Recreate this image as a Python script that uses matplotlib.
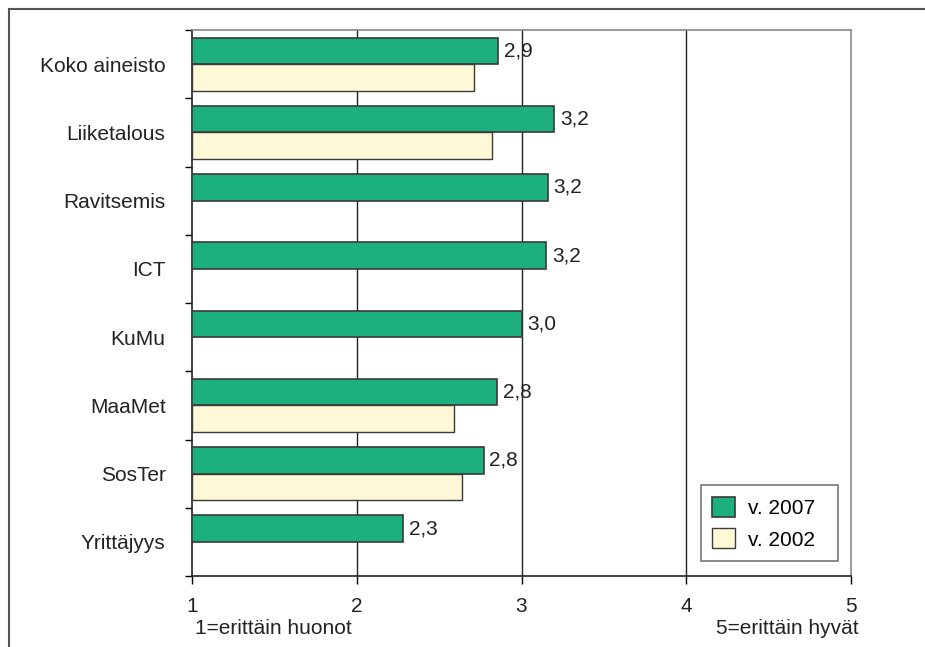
import numpy as np
import matplotlib.pyplot as plt
from matplotlib.lines import Line2D

plt.rcParams['font.family'] = ['Liberation Sans', 'DejaVu Sans']

categories = ["Koko aineisto", "Liiketalous", "Ravitsemis", "ICT", "KuMu",
              "MaaMet", "SosTer", "Yrittäjyys"]
v2007 = [2.86, 3.20, 3.16, 3.15, 3.00, 2.85, 2.77, 2.28]
v2002 = [2.71, 2.82, np.nan, np.nan, np.nan, 2.59, 2.64, np.nan]
labels2007 = ["2,9", "3,2", "3,2", "3,2", "3,0", "2,8", "2,8", "2,3"]
xticks = [1, 2, 3, 4, 5]

green = "#1db07f"
cream = "#fff8d6"
edge = "#3a3a3a"
txt = "#222222"
fs = 15

fig = plt.figure(figsize=(9.25, 6.47), dpi=100)
ax = fig.add_axes([192/925, 71/647, 659/925, 546/647])

n = len(categories)
y = np.arange(n)
h = 0.39
ax.barh(y - h/2, np.array(v2007) - 1, left=1, height=h, color=green,
        edgecolor=edge, linewidth=1.2, label="v. 2007", zorder=3)
ax.barh(y + h/2, np.array(v2002) - 1, left=1, height=h, color=cream,
        edgecolor=edge, linewidth=1.0, label="v. 2002", zorder=3)

for yi, v, lab in zip(y, v2007, labels2007):
    ax.text(v + 0.035, yi - h/2, lab, va="center", ha="left", fontsize=fs,
            color=txt, zorder=4)

ax.set_xlim(1, 5)
ax.set_ylim(n - 0.5, -0.5)
ax.set_xticks(xticks)
ax.set_xticklabels([str(t) for t in xticks], fontsize=fs, color=txt)
ax.tick_params(axis="x", length=6, width=1, pad=9, direction="out")

ax.set_yticks(y)
ax.set_yticklabels(categories, fontsize=fs, color=txt)
ax.tick_params(axis="y", length=0, pad=19)
# small outward ticks on the category boundaries
ax.set_yticks(np.arange(-0.5, n + 0.5, 1), minor=True)
ax.tick_params(axis="y", which="minor", length=5, width=1, direction="out")

for gx in [2, 3, 4]:
    ax.axvline(gx, color=txt, linewidth=1.0, zorder=1)

for s in ["left", "bottom"]:
    ax.spines[s].set_color(txt)
    ax.spines[s].set_linewidth(1.2)
for s in ["top", "right"]:
    ax.spines[s].set_color("#888888")
    ax.spines[s].set_linewidth(1.2)

# legend box stretched to the reference width
leg = ax.legend(loc="lower left", bbox_to_anchor=(0.7724, 0.0275, 0.2079, 0.1),
                mode="expand", fontsize=fs, frameon=True, fancybox=False,
                handlelength=1.1, handleheight=1.1, labelspacing=0.5,
                borderpad=0.55, handletextpad=0.6, borderaxespad=0)
leg.get_frame().set_edgecolor("#555555")
leg.get_frame().set_linewidth(1.2)

fig.text(195/925, 1 - 628/647, "1=erittäin huonot", fontsize=fs,
         color=txt, ha="left", va="center")
fig.text(859/925, 1 - 628/647, "5=erittäin hyvät", fontsize=fs,
         color=txt, ha="right", va="center")

# outer frame
fig.add_artist(Line2D([9/925, 9/925], [0, 1 - 9/647], transform=fig.transFigure,
                      color="#555555", linewidth=1.5))
fig.add_artist(Line2D([9/925, 1], [1 - 9/647, 1 - 9/647], transform=fig.transFigure,
                      color="#555555", linewidth=1.5))

fig.savefig("out.png", dpi=100)
